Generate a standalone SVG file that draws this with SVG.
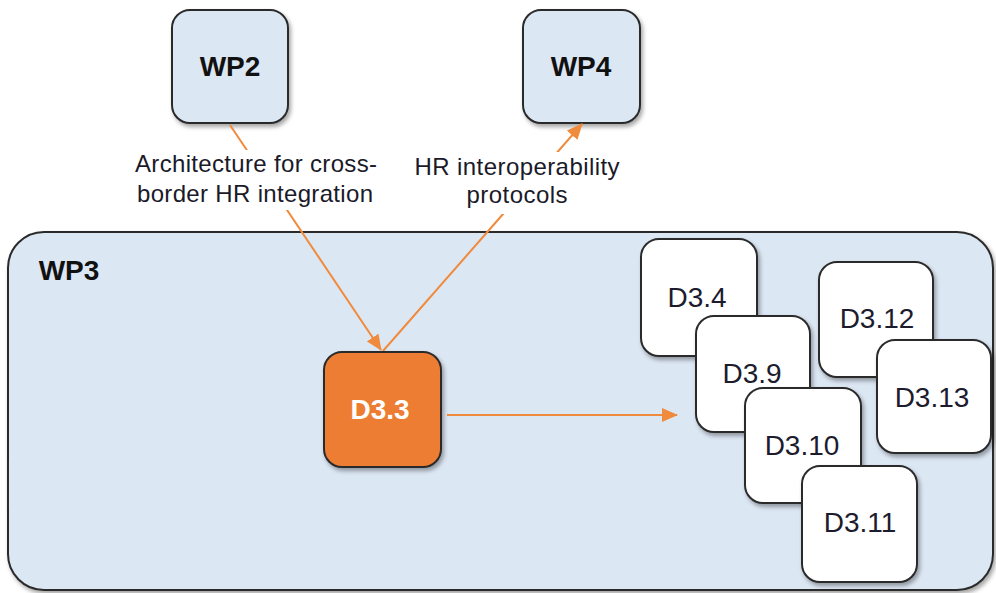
<svg xmlns="http://www.w3.org/2000/svg" width="996" height="593" viewBox="0 0 996 593">
<style>
text{font-family:"Liberation Sans",Arial,sans-serif;}
.box{stroke:#2b2b2b;stroke-width:2;}
.wp{fill:#dce7f4;}
.d{fill:#ffffff;}
.big{font-size:28px;font-weight:bold;fill:#111;text-anchor:middle;}
.dl{font-size:28px;fill:#1c1c2e;text-anchor:middle;}
.lbl{font-size:24px;fill:#1a1a2a;text-anchor:middle;}
.conn{stroke:#f08a3c;stroke-width:2;fill:none;}
</style>
<defs>
<filter id="sh" x="-10%" y="-10%" width="130%" height="130%">
<feDropShadow dx="2" dy="3" stdDeviation="2" flood-color="#000" flood-opacity="0.35"/>
</filter>
<marker id="a" markerWidth="16" markerHeight="14" refX="15" refY="7" orient="auto" markerUnits="userSpaceOnUse">
<path d="M0,0 L16,7 L0,14 Z" fill="#f08a3c"/>
</marker>
</defs>
<g id="WP3">
<rect class="box wp" x="8" y="232" width="985" height="358" rx="36" filter="url(#sh)"/>
<text class="big" x="69" y="280">WP3</text>
</g>
<g id="WP2">
<rect class="box wp" x="172" y="10" width="116" height="113" rx="18" filter="url(#sh)"/>
<text class="big" x="230" y="76">WP2</text>
</g>
<g id="WP4">
<rect class="box wp" x="523" y="10" width="117" height="113" rx="18" filter="url(#sh)"/>
<text class="big" x="581" y="76">WP4</text>
</g>
<g id="connectors">
<line class="conn" x1="230" y1="125" x2="381" y2="350" marker-end="url(#a)"/>
<line class="conn" x1="383" y1="351" x2="582" y2="124" marker-end="url(#a)"/>
<line class="conn" x1="447" y1="415" x2="677" y2="415" marker-end="url(#a)"/>
<g id="label-arch">
<rect x="131" y="150" width="250" height="60" fill="#ffffff"/>
<text class="lbl" x="256" y="172" textLength="242">Architecture for cross-</text>
<text class="lbl" x="255" y="202" textLength="236">border HR integration</text>
</g>
<g id="label-hr">
<rect x="412" y="152" width="212" height="62" fill="#ffffff"/>
<text class="lbl" x="517" y="175" textLength="205">HR interoperability</text>
<text class="lbl" x="517" y="203" textLength="101">protocols</text>
</g>
</g>
<g id="D3.3">
<rect class="box" fill="#ed7d31" x="324" y="352" width="117" height="115" rx="18" filter="url(#sh)"/>
<text class="big" style="fill:#ffffff" x="380" y="419">D3.3</text>
</g>
<g id="D3.4">
<rect class="box d" x="641" y="239" width="116" height="117" rx="18" filter="url(#sh)"/>
<text class="dl" x="697" y="307">D3.4</text>
</g>
<g id="D3.9">
<rect class="box d" x="696" y="316" width="114" height="116" rx="18" filter="url(#sh)"/>
<text class="dl" x="752" y="383">D3.9</text>
</g>
<g id="D3.10">
<rect class="box d" x="745" y="388" width="116" height="115" rx="18" filter="url(#sh)"/>
<text class="dl" x="802" y="455">D3.10</text>
</g>
<g id="D3.11">
<rect class="box d" x="802" y="466" width="115" height="116" rx="18" filter="url(#sh)"/>
<text class="dl" x="860" y="532">D3.11</text>
</g>
<g id="D3.12">
<rect class="box d" x="819" y="262" width="114" height="115" rx="18" filter="url(#sh)"/>
<text class="dl" x="877" y="328">D3.12</text>
</g>
<g id="D3.13">
<rect class="box d" x="877" y="340" width="114" height="113" rx="18" filter="url(#sh)"/>
<text class="dl" x="932" y="407">D3.13</text>
</g>
</svg>
